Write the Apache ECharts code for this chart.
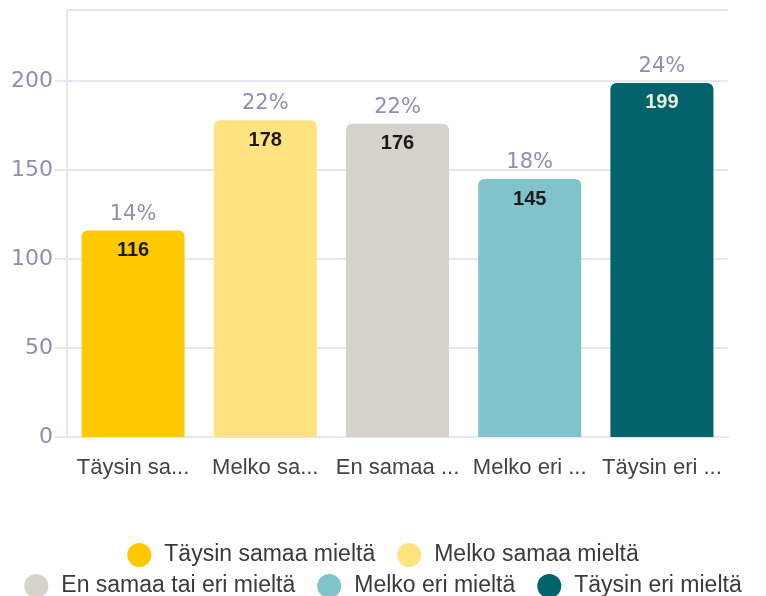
<!DOCTYPE html>
<html>
<head>
<meta charset="utf-8">
<script src="https://cdn.jsdelivr.net/npm/echarts@6/dist/echarts.min.js"></script>
<style>
  html, body { margin: 0; padding: 0; background: #fff; }
  #chart { width: 766px; height: 596px; }
</style>
</head>
<body>
<div id="chart"></div>
<script>
var categories = ['Täysin samaa mieltä', 'Melko samaa mieltä', 'En samaa tai eri mieltä', 'Melko eri mieltä', 'Täysin eri mieltä']
var tickLabels = ['Täysin sa...', 'Melko sa...', 'En samaa ...', 'Melko eri ...', 'Täysin eri ...']
var counts = [116, 178, 176, 145, 199]
var percents = [14, 22, 22, 18, 24]
var colors = ['#FFC900', '#FFE380', '#D6D3CC', '#80C3CA', '#00626A']
var valueLabelColors = ['#1b1b1b', '#1b1b1b', '#1b1b1b', '#1b1b1b', '#ecebdc']

var gridColor = '#e6e6f1'
var mutedText = '#8c90ae'

var chart = echarts.init(document.getElementById('chart'))

var series = categories.map(function (name, i) {
  return {
    name: name,
    type: 'bar',
    barWidth: 103,
    barGap: '-100%',
    z: 3,
    itemStyle: { color: colors[i], borderRadius: [6, 6, 0, 0] },
    label: {
      show: true,
      position: 'insideTop',
      distance: 10,
      color: valueLabelColors[i],
      fontFamily: 'Liberation Sans',
      fontWeight: 'bold',
      fontSize: 20
    },
    data: counts.map(function (v, j) { return j === i ? v : '-' })
  }
})

// percent labels above bars
series.push({
  name: 'pct',
  type: 'bar',
  barWidth: 103,
  barGap: '-100%',
  z: 2,
  silent: true,
  itemStyle: { color: 'rgba(0,0,0,0)' },
  label: {
    show: true,
    position: 'top',
    distance: 6,
    color: mutedText,
    fontFamily: 'DejaVu Sans',
    fontSize: 21,
    formatter: function (p) { return percents[p.dataIndex] + '%' }
  },
  data: counts
})

var legendBase = {
  icon: 'circle',
  itemWidth: 24,
  itemHeight: 24,
  itemGap: 22,
  left: 'center',
  selectedMode: false,
  textStyle: { fontFamily: 'Liberation Sans', fontSize: 23, color: '#3a3a3a', padding: [0, 0, 0, 8] }
}

chart.setOption({
  animation: false,
  grid: { left: 67, right: 38, top: 10, bottom: 159 },
  legend: [
    Object.assign({}, legendBase, { top: 538, data: categories.slice(0, 2) }),
    Object.assign({}, legendBase, { top: 569, data: categories.slice(2) })
  ],
  xAxis: {
    type: 'category',
    data: categories,
    axisLine: { lineStyle: { color: gridColor, width: 2 } },
    axisTick: { alignWithLabel: true, length: 10, lineStyle: { color: gridColor, width: 2 } },
    axisLabel: {
      interval: 0,
      margin: 20,
      color: '#444',
      fontFamily: 'Liberation Sans',
      fontSize: 22,
      formatter: function (v, i) { return tickLabels[i] }
    }
  },
  yAxis: {
    type: 'value',
    min: 0,
    max: 240,
    interval: 50,
    axisLine: { show: true, lineStyle: { color: gridColor, width: 2 } },
    axisTick: { show: true, length: 12, lineStyle: { color: gridColor, width: 2 } },
    splitLine: { lineStyle: { color: gridColor, width: 2 } },
    axisLabel: {
      margin: 14,
      showMaxLabel: false,
      color: mutedText,
      fontFamily: 'DejaVu Sans',
      fontSize: 22
    }
  },
  series: series
})
</script>
</body>
</html>
